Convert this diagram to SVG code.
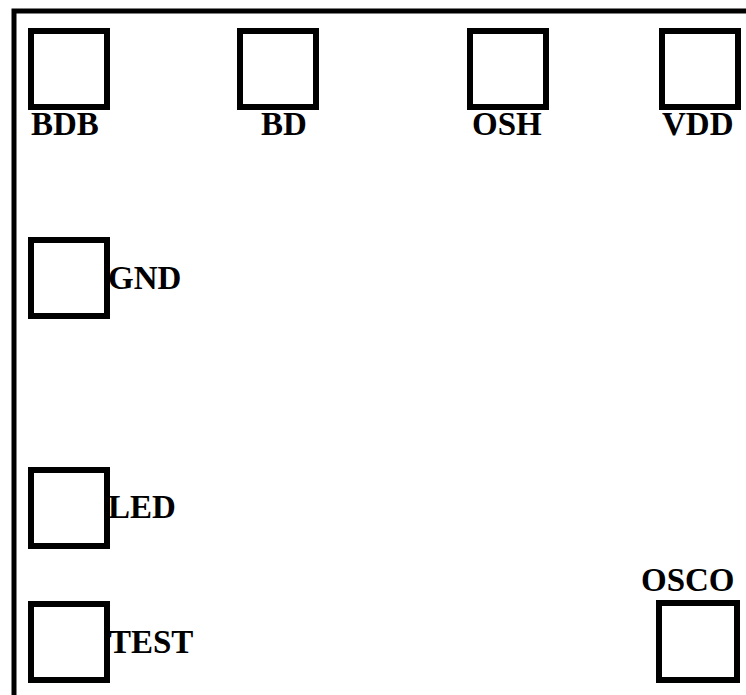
<svg xmlns="http://www.w3.org/2000/svg" width="746" height="695" viewBox="0 0 746 695">
<style>
.pad{fill:#fff;stroke:#000;stroke-width:6}
.lbl{font-family:"Liberation Serif","Times New Roman",serif;font-weight:bold;font-size:33px;fill:#000}
</style>
<rect x="0" y="0" width="746" height="695" fill="#fff"/>
<rect id="border" x="14" y="11" width="800" height="800" fill="none" stroke="#000" stroke-width="5"/>
<g id="BDB"><rect class="pad" x="31" y="31" width="76" height="76"/><text class="lbl" x="31" y="135">BDB</text></g>
<g id="BD"><rect class="pad" x="240" y="31" width="76" height="76"/><text class="lbl" x="261" y="135">BD</text></g>
<g id="OSH"><rect class="pad" x="470" y="31" width="76" height="76"/><text class="lbl" x="472" y="135">OSH</text></g>
<g id="VDD"><rect class="pad" x="662" y="31" width="76" height="76"/><text class="lbl" x="662" y="135">VDD</text></g>
<g id="GND"><rect class="pad" x="31" y="240" width="76" height="76"/><text class="lbl" x="108" y="289">GND</text></g>
<g id="LED"><rect class="pad" x="31" y="470" width="76" height="76"/><text class="lbl" x="108" y="518">LED</text></g>
<g id="TEST"><rect class="pad" x="31" y="604" width="76" height="76"/><text class="lbl" x="109" y="653">TEST</text></g>
<g id="OSCO"><rect class="pad" x="659" y="603" width="78" height="77"/><text class="lbl" x="641" y="591">OSCO</text></g>
<g id="connectors"></g>
</svg>
